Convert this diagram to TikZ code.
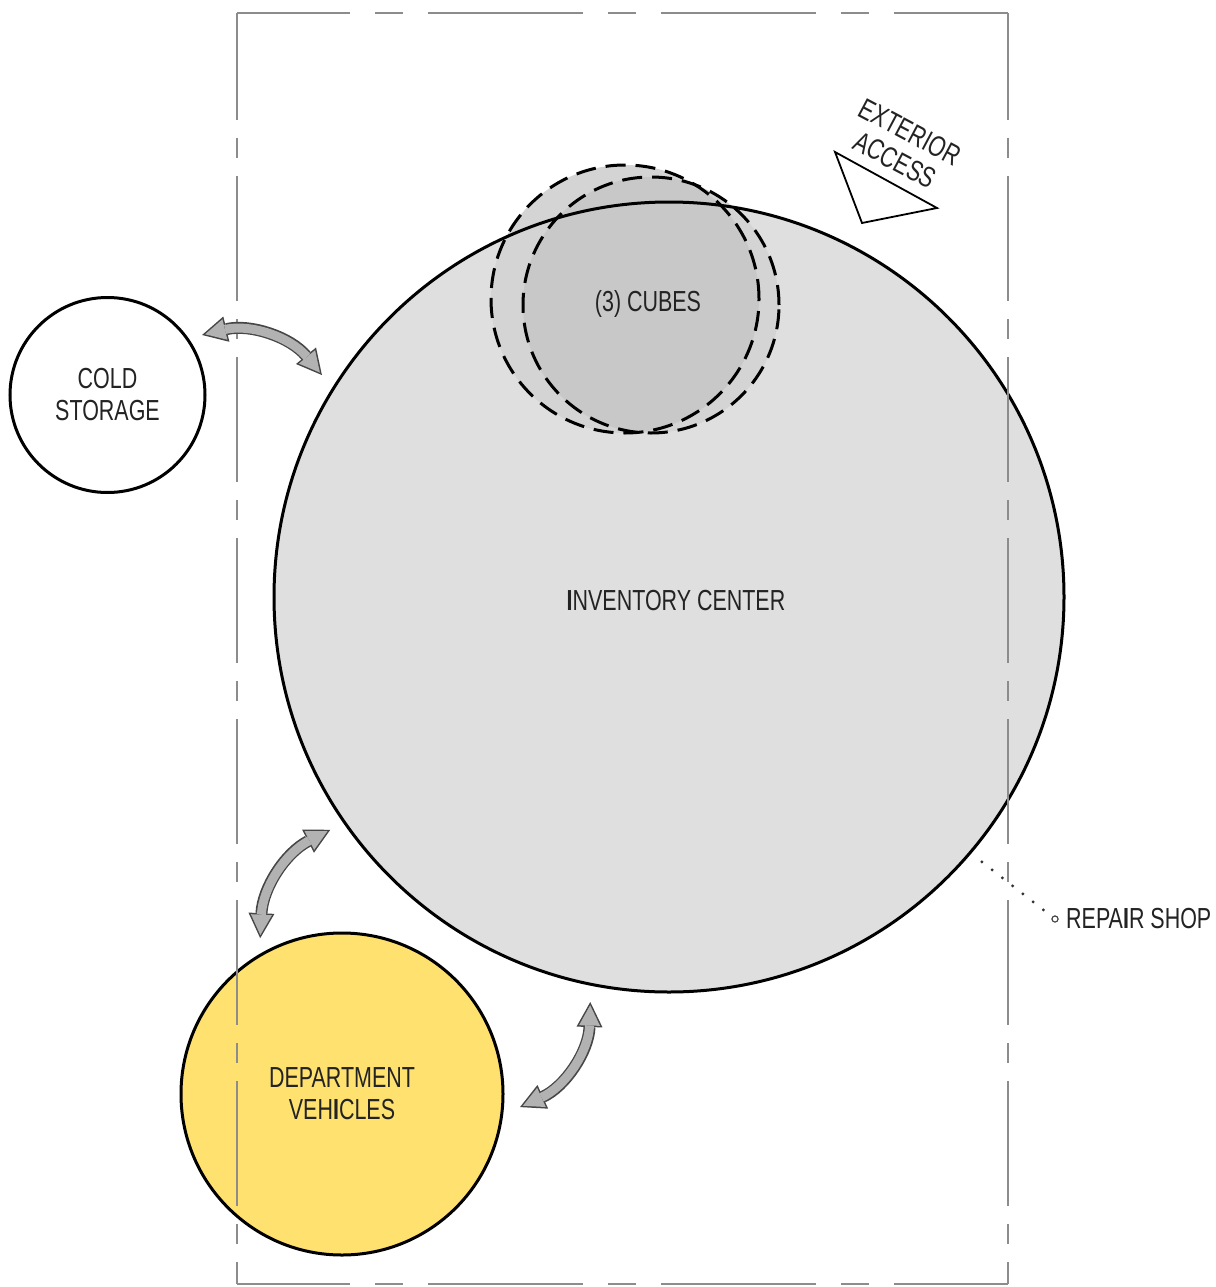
\documentclass[tikz,border=0pt]{standalone}
\usepackage{fontspec}
\setmainfont{Liberation Sans}[FakeStretch=0.74, BoldFont=Liberation Sans Bold, BoldFeatures={FakeStretch=0.74}]
\usetikzlibrary{arrows.meta,calc}

\definecolor{invfill}{RGB}{223,223,223}
\definecolor{cubelight}{RGB}{212,212,212}
\definecolor{cubedark}{RGB}{200,200,200}
\definecolor{vehfill}{RGB}{255,225,112}
\definecolor{arrowline}{RGB}{70,70,70}
\definecolor{arrowbody}{RGB}{178,178,178}
\definecolor{borderline}{RGB}{140,140,140}
\definecolor{txt}{RGB}{35,35,35}

% fat double-headed arrow: dark outer pass, grey inner pass
\newcommand\fatlink[3]{%
  \draw[fatout] #1 to[#2] #3;
  \draw[fatin] #1 to[#2] #3;}

\begin{document}
\begin{tikzpicture}[x=1pt,y=1pt,
  font=\fontsize{29}{32}\selectfont,
  ring/.style={circle, draw=black, line width=3pt, inner sep=0pt, outer sep=0pt,
    align=center, text=txt},
  caption/.style={inner sep=0pt, align=center, text=txt},
  cubedash/.style={draw=black, line width=3pt, dash pattern=on 20pt off 10pt},
  border/.style={draw=borderline, line width=2pt},
  fatout/.style={line width=12pt, draw=arrowline,
    {Triangle[width=26pt,length=25pt,line width=0pt]}-{Triangle[width=26pt,length=25pt,line width=0pt]}},
  fatin/.style={line width=9pt, draw=arrowbody,
    {Triangle[width=21pt,length=20.3pt,line width=0pt]}-{Triangle[width=21pt,length=20.3pt,line width=0pt]},
    shorten <=3.2pt, shorten >=3.2pt},
]
\useasboundingbox (0,0) rectangle (1215,-1287);
\fill[white] (0,0) rectangle (1215,-1287);

% inventory center
\node[circle, fill=invfill, minimum size=790pt, inner sep=0pt, outer sep=0pt] (inv) at (669,-597) {};

% cubes: two overlapping discs, darker where they overlap
\fill[cubelight] (625,-299) circle[radius=134];
\fill[cubelight] (651,-305) circle[radius=128];
\begin{scope}
  \clip (625,-299) circle[radius=134];
  \fill[cubedark] (651,-305) circle[radius=128];
\end{scope}

% outline of the inventory center over the cubes
\draw[line width=3pt] (inv.center) circle[radius=395];

\draw[cubedash] (625,-299) circle[radius=134];
\draw[cubedash] (651,-305) circle[radius=128];

\node[caption] (cubes) at (648,-304) {(3) CUBES};
\node[caption] (invlabel) at (676,-601) {{\bfseries I}NVENTORY CENTER};

% satellite spaces
\node[ring, fill=white, minimum size=195pt] (cold) at (107.5,-395) {COLD\\STORAGE};
\node[ring, fill=vehfill, minimum size=322pt] (vehicles) at (342,-1094) {DEPARTMENT\\VEH{\bfseries I}CLES};

% building outline, centre-line style
\draw[border, dash pattern=on 155pt off 25pt on 28pt off 25pt, dash phase=42pt] (237,-13) -- (1008,-13);
\draw[border, dash pattern=on 155pt off 25pt on 28pt off 25pt, dash phase=42pt] (237,-1284) -- (1008,-1284);
\draw[border, dash pattern=on 125pt off 18pt on 20pt off 18pt, dash phase=18pt] (237,-13) -- (237,-1284);
\draw[border, dash pattern=on 125pt off 18pt on 20pt off 18pt, dash phase=18pt] (1008,-13) -- (1008,-1284);

% adjacencies
\fatlink{($(cold)+(32.4:112)$)}{bend left=32}{($(inv)+(147.4:412)$)}
\fatlink{($(vehicles)+(117.7:176)$)}{bend left=30}{($(inv)+(214.5:411)$)}
\fatlink{($(vehicles)+(-4.2:178.5)$)}{bend right=32}{($(inv)+(259:412.6)$)}

% repair shop
\node[circle, draw=black!75, fill=white, line width=1pt, minimum size=6pt, inner sep=0pt] (repdot) at (1055,-919) {};
\draw[black!80, line width=3.2pt, line cap=round, dash pattern=on 0pt off 13pt]
  ($(inv)+(-40.25:410)$) -- (repdot.center);
\node[circle, draw=black!75, fill=white, line width=1pt, minimum size=6pt, inner sep=0pt] at (repdot) {};
\node[caption, anchor=west] (repair) at (1066,-919) {REPA{\bfseries I}R SHOP};

% exterior access
\draw[line width=1.8pt, fill=white] (835,-152) -- (937,-208) -- (862,-223) -- cycle;
\node[caption, rotate=-28] (exterior) at (910,-132) {EXTERIOR};
\node[caption, rotate=-28] (access) at (895,-160) {ACCESS};
\end{tikzpicture}
\end{document}
